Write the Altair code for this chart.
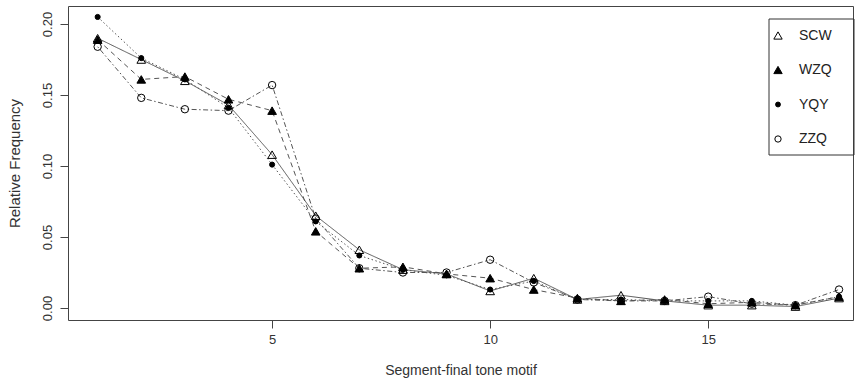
import altair as alt
import pandas as pd

motif = list(range(1, 19))
speakers = ["SCW", "WZQ", "YQY", "ZZQ"]
scw = [0.190, 0.175, 0.160, 0.143, 0.108, 0.065, 0.041, 0.027, 0.024, 0.012, 0.021, 0.006, 0.009, 0.005, 0.002, 0.002, 0.001, 0.007]
wzq = [0.189, 0.161, 0.163, 0.147, 0.139, 0.054, 0.028, 0.029, 0.024, 0.021, 0.013, 0.007, 0.005, 0.006, 0.003, 0.004, 0.002, 0.008]
yqy = [0.205, 0.176, 0.161, 0.141, 0.101, 0.061, 0.037, 0.027, 0.023, 0.013, 0.019, 0.006, 0.006, 0.005, 0.005, 0.005, 0.002, 0.008]
zzq = [0.184, 0.148, 0.140, 0.139, 0.157, 0.063, 0.028, 0.025, 0.025, 0.034, 0.018, 0.006, 0.005, 0.005, 0.008, 0.003, 0.002, 0.013]
series = [scw, wzq, yqy, zzq]

shapes = ["triangle-up", "triangle-up", "circle", "circle"]
fills = ["transparent", "black", "black", "transparent"]
sizes = [75, 75, 26, 55]
legend_sizes = [70, 70, 24, 40]
dashes = [[1, 0], [5, 4], [1.5, 2.5], [1.5, 2.5, 5, 2.5]]

rows = []
for name, vals, sz in zip(speakers, series, sizes):
    for m, v in zip(motif, vals):
        rows.append({"motif": m, "freq": v, "speaker": name, "sz": sz})
df = pd.DataFrame(rows)
leg_df = pd.DataFrame({"speaker": speakers, "sz": legend_sizes})

FONT = "Liberation Sans"

xscale = alt.Scale(domain=[0.32, 18.32], nice=False, zero=False)
yscale = alt.Scale(domain=[-0.00845, 0.2127], nice=False, zero=False)
shape_scale = alt.Scale(domain=speakers, range=shapes)
fill_scale = alt.Scale(domain=speakers, range=fills)
leg_y = alt.Scale(domain=speakers, range=[29.5, 133], padding=0)

xaxis = alt.Axis(values=[5, 10, 15], format="d", grid=False, domain=False,
                 tickSize=8, tickColor="#444", labelPadding=5, labelFontSize=13,
                 labelFont=FONT, labelColor="#333", title="Segment-final tone motif",
                 titleFont=FONT, titleFontSize=14, titleFontWeight="normal",
                 titleColor="#333", titlePadding=17)
yaxis = alt.Axis(values=[0, 0.05, 0.10, 0.15, 0.20], format=".2f", grid=False, domain=False,
                 tickSize=8, tickColor="#444", labelPadding=6, labelFontSize=13,
                 labelAngle=270, labelAlign="center", labelBaseline="bottom",
                 labelFont=FONT, labelColor="#333", title="Relative Frequency",
                 titleFont=FONT, titleFontSize=15, titleFontWeight="normal",
                 titleColor="#333", titlePadding=19)

base = alt.Chart(df)

lines = base.mark_line(strokeWidth=1, color="#555").encode(
    x=alt.X("motif:Q", scale=xscale, axis=xaxis),
    y=alt.Y("freq:Q", scale=yscale, axis=yaxis),
    strokeDash=alt.StrokeDash("speaker:N", scale=alt.Scale(domain=speakers, range=dashes), legend=None),
    detail="speaker:N",
)

points = base.mark_point(opacity=1, stroke="black", strokeWidth=1).encode(
    x=alt.X("motif:Q", scale=xscale),
    y=alt.Y("freq:Q", scale=yscale),
    shape=alt.Shape("speaker:N", scale=shape_scale, legend=None),
    fill=alt.Fill("speaker:N", scale=fill_scale, legend=None),
    size=alt.Size("sz:Q", scale=None, legend=None),
)

main = alt.layer(lines, points)

# legend drawn from the speakers list
frame = alt.Chart(pd.DataFrame({"a": [0]})).mark_rect(
    fillOpacity=0, stroke="#333", strokeWidth=1
).encode(x=alt.value(701), x2=alt.value(786), y=alt.value(13), y2=alt.value(149))

leg_pts = alt.Chart(leg_df).mark_point(opacity=1, stroke="black", strokeWidth=1).encode(
    x=alt.value(710),
    y=alt.Y("speaker:N", scale=leg_y, axis=None),
    shape=alt.Shape("speaker:N", scale=shape_scale, legend=None),
    fill=alt.Fill("speaker:N", scale=fill_scale, legend=None),
    size=alt.Size("sz:Q", scale=None, legend=None),
)
leg_txt = alt.Chart(leg_df).mark_text(
    align="left", baseline="middle", font=FONT, fontSize=14, color="#222"
).encode(
    x=alt.value(731),
    y=alt.Y("speaker:N", scale=leg_y, axis=None),
    text="speaker:N",
)

chart = alt.layer(main, frame, leg_pts, leg_txt).resolve_scale(
    y="independent"
).properties(
    width=785, height=314,
    padding={"left": 68, "top": 6, "right": 8, "bottom": 63},
    autosize=alt.AutoSizeParams(type="none"),
    background="white",
).configure_view(
    stroke="#444", strokeWidth=1
)

chart.save("out.html", embed_options={"renderer": "svg", "actions": False})
